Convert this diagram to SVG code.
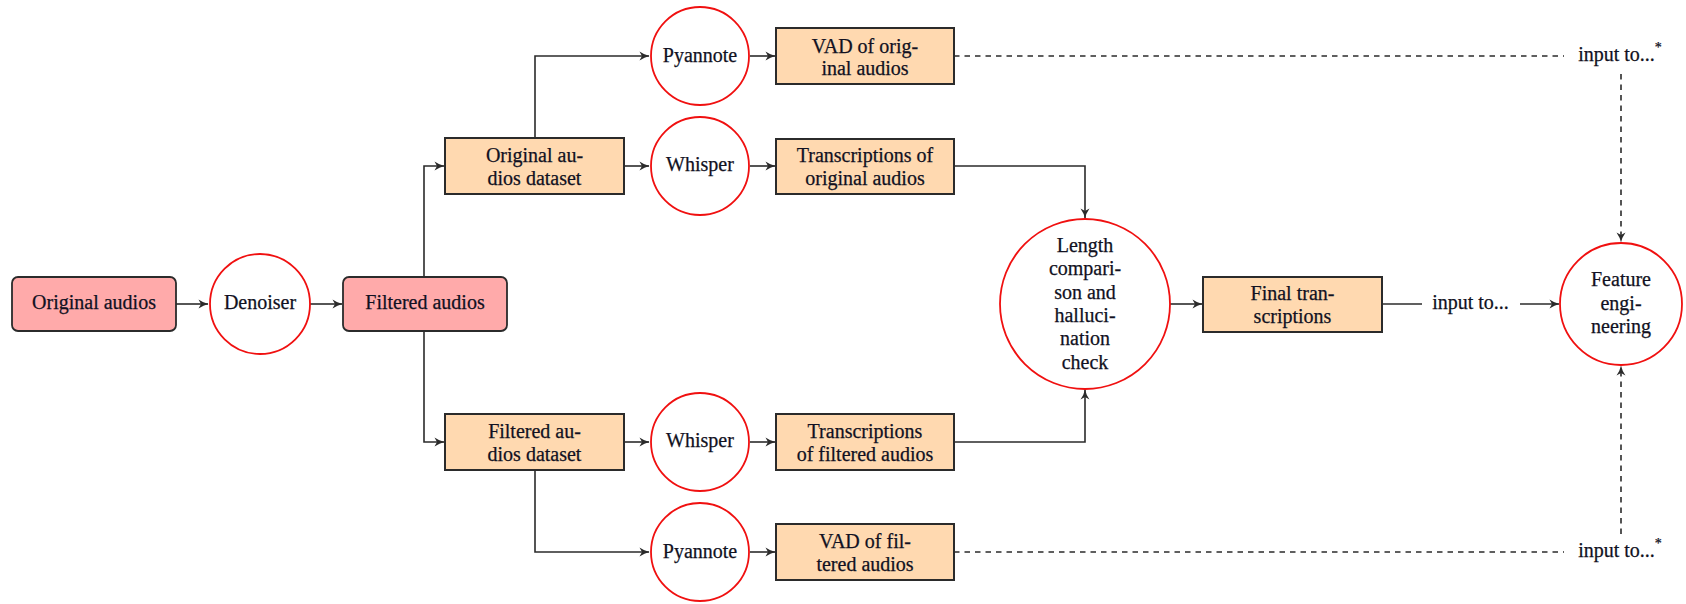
<svg xmlns="http://www.w3.org/2000/svg" width="1686" height="604" viewBox="0 0 1686 604" font-family="Liberation Serif, Times New Roman, serif">
<style>
text{font-family:'Liberation Serif',serif;font-size:20px;fill:#111122;stroke:#111122;stroke-width:0.25;text-anchor:middle}
.pink{fill:#FFAAAA;stroke:#2b2b2b;stroke-width:1.8}
.peach{fill:#FFD9B0;stroke:#2b2b2b;stroke-width:2}
.circ{fill:#fff;stroke:#f01010;stroke-width:1.8}
.ln{fill:none;stroke:#2b2b2b;stroke-width:1.6}
.dash{fill:none;stroke:#2b2b2b;stroke-width:1.6;stroke-dasharray:5.5 5}
</style>
<defs>
<marker id="ar" markerWidth="12" markerHeight="12" refX="10.5" refY="6" orient="auto" markerUnits="userSpaceOnUse">
<path d="M1,1.5 Q6,5 11,6 Q6,7 1,10.5 L3.5,6 Z" fill="#2b2b2b"/>
</marker>
</defs>
<g id="connectors">
<path class="ln" d="M176,304 H208" marker-end="url(#ar)"/>
<path class="ln" d="M310,304 H342" marker-end="url(#ar)"/>
<path class="ln" d="M424,277 V166 H444" marker-end="url(#ar)"/>
<path class="ln" d="M424,331 V442 H444" marker-end="url(#ar)"/>
<path class="ln" d="M535,138 V56 H649" marker-end="url(#ar)"/>
<path class="ln" d="M624,166 H649" marker-end="url(#ar)"/>
<path class="ln" d="M624,442 H649" marker-end="url(#ar)"/>
<path class="ln" d="M535,470 V552 H649" marker-end="url(#ar)"/>
<path class="ln" d="M750,56 H775" marker-end="url(#ar)"/>
<path class="ln" d="M750,166 H775" marker-end="url(#ar)"/>
<path class="ln" d="M750,442 H775" marker-end="url(#ar)"/>
<path class="ln" d="M750,552 H775" marker-end="url(#ar)"/>
<path class="ln" d="M954,166 H1085 V218" marker-end="url(#ar)"/>
<path class="ln" d="M954,442 H1085 V390" marker-end="url(#ar)"/>
<path class="ln" d="M1170,304 H1202" marker-end="url(#ar)"/>
<path class="ln" d="M1382,304 H1422"/>
<path class="ln" d="M1520,304 H1559" marker-end="url(#ar)"/>
<path class="dash" d="M954,56 H1564"/>
<path class="dash" d="M954,552 H1564"/>
<path class="dash" d="M1621,74 V242" marker-end="url(#ar)"/>
<path class="dash" d="M1621,534 V366" marker-end="url(#ar)"/>
<text x="1470.5" y="309">input to...</text>
<text x="1620" y="61">input to...<tspan font-size="14" dy="-9">*</tspan></text>
<text x="1620" y="557">input to...<tspan font-size="14" dy="-9">*</tspan></text>
</g>
<g id="original-audios"><rect class="pink" x="12" y="277" width="164" height="54" rx="6"/><text x="94" y="309">Original audios</text></g>
<g id="denoiser"><circle class="circ" cx="260" cy="304" r="50"/><text x="260" y="309">Denoiser</text></g>
<g id="filtered-audios"><rect class="pink" x="343" y="277" width="164" height="54" rx="6"/><text x="425" y="309">Filtered audios</text></g>
<g id="original-dataset"><rect class="peach" x="445" y="138" width="179" height="56"/><text x="534.5" y="162">Original au-</text><text x="534.5" y="185">dios dataset</text></g>
<g id="filtered-dataset"><rect class="peach" x="445" y="414" width="179" height="56"/><text x="534.5" y="438">Filtered au-</text><text x="534.5" y="461">dios dataset</text></g>
<g id="pyannote-top"><circle class="circ" cx="700" cy="56" r="49"/><text x="700" y="61.5">Pyannote</text></g>
<g id="whisper-top"><circle class="circ" cx="700" cy="166" r="49"/><text x="700" y="171">Whisper</text></g>
<g id="whisper-bottom"><circle class="circ" cx="700" cy="442" r="49"/><text x="700" y="447">Whisper</text></g>
<g id="pyannote-bottom"><circle class="circ" cx="700" cy="552" r="49"/><text x="700" y="557.5">Pyannote</text></g>
<g id="vad-original"><rect class="peach" x="776" y="28" width="178" height="56"/><text x="865" y="52.5">VAD of orig-</text><text x="865" y="75">inal audios</text></g>
<g id="trans-original"><rect class="peach" x="776" y="139" width="178" height="55"/><text x="865" y="162">Transcriptions of</text><text x="865" y="185">original audios</text></g>
<g id="trans-filtered"><rect class="peach" x="776" y="414" width="178" height="56"/><text x="865" y="438">Transcriptions</text><text x="865" y="461">of filtered audios</text></g>
<g id="vad-filtered"><rect class="peach" x="776" y="524" width="178" height="56"/><text x="865" y="548">VAD of fil-</text><text x="865" y="571">tered audios</text></g>
<g id="length-check"><circle class="circ" cx="1085" cy="304" r="85"/>
<text x="1085" y="252">Length</text><text x="1085" y="275.3">compari-</text><text x="1085" y="298.6">son and</text><text x="1085" y="321.9">halluci-</text><text x="1085" y="345.2">nation</text><text x="1085" y="368.5">check</text></g>
<g id="final-transcriptions"><rect class="peach" x="1203" y="277" width="179" height="55"/><text x="1292.5" y="300">Final tran-</text><text x="1292.5" y="323">scriptions</text></g>
<g id="feature-engineering"><circle class="circ" cx="1621" cy="304" r="61"/><text x="1621" y="286">Feature</text><text x="1621" y="309.5">engi-</text><text x="1621" y="333">neering</text></g>
</svg>
